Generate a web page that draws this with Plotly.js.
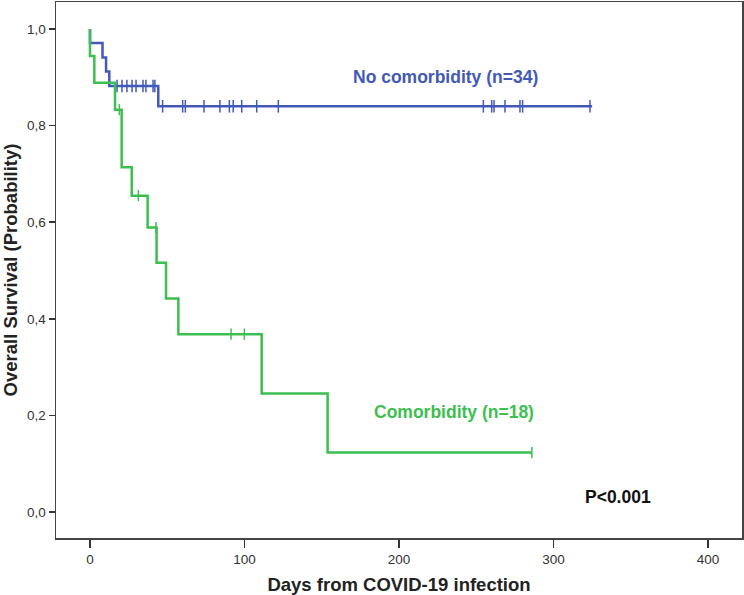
<!DOCTYPE html>
<html>
<head>
<meta charset="utf-8">
<script src="https://cdn.plot.ly/plotly-3.0.1.min.js"></script>
<style>html,body{margin:0;padding:0;background:#fff;}#chart{width:744px;height:595px;}</style>
</head>
<body>
<div id="chart"></div>
<script>
// No comorbidity (n=34): step curve
const noComTimes = [0, 0, 8.1, 10.4, 12.5, 44.2, 325];
const noComSurv  = [1.0, 0.971, 0.941, 0.912, 0.882, 0.840, 0.840];
// censored observations
const noComCensorTimes = [17.5, 20.7, 23.9, 27.2, 29.8, 34.3, 36.2, 40.8, 42,
  47, 60, 61.7, 73.8, 84.1, 90.2, 92.7, 98.2, 107.9, 121.9,
  254.6, 260, 261.5, 268.6, 278.3, 280, 323.6];
const noComCensorSurv = [0.882, 0.882, 0.882, 0.882, 0.882, 0.882, 0.882, 0.882, 0.882,
  0.840, 0.840, 0.840, 0.840, 0.840, 0.840, 0.840, 0.840, 0.840, 0.840,
  0.840, 0.840, 0.840, 0.840, 0.840, 0.840, 0.840];

// Comorbidity (n=18): step curve
const comTimes = [0, 0, 2.8, 16.2, 20.5, 27, 37.3, 43.1, 49.2, 57.2, 111.1, 153.8, 286];
const comSurv  = [1.0, 0.944, 0.889, 0.833, 0.714, 0.655, 0.589, 0.516, 0.442, 0.368, 0.245, 0.123, 0.123];
const comCensorTimes = [19, 31.3, 42.7, 91.3, 99.9, 286];
const comCensorSurv  = [0.833, 0.655, 0.589, 0.368, 0.368, 0.123];

const xTicks = [0, 100, 200, 300, 400];
const yTicks = [0, 0.2, 0.4, 0.6, 0.8, 1.0];

const blue = '#4259b8';
const green = '#3cbf50';
const font = 'Liberation Sans, Arial, sans-serif';

const data = [
  {x: noComTimes, y: noComSurv, mode: 'lines', line: {shape: 'hv', color: blue, width: 2.5}, hoverinfo: 'skip'},
  {x: noComCensorTimes, y: noComCensorSurv, mode: 'markers',
   marker: {symbol: 'line-ns', size: 9, line: {color: blue, width: 1.5}}, hoverinfo: 'skip'},
  {x: comTimes, y: comSurv, mode: 'lines', line: {shape: 'hv', color: green, width: 2.5}, hoverinfo: 'skip'},
  {x: comCensorTimes, y: comCensorSurv, mode: 'markers',
   marker: {symbol: 'line-ns', size: 8, line: {color: green, width: 1.5}}, hoverinfo: 'skip'}
];

const layout = {
  width: 744, height: 595,
  margin: {l: 56, r: 2, t: 2, b: 57},
  paper_bgcolor: '#fff', plot_bgcolor: '#fff',
  showlegend: false,
  separators: ', ',
  font: {family: font, color: '#333', size: 13},
  xaxis: {
    range: [-22, 422], tickvals: xTicks, ticktext: xTicks.map(String),
    showgrid: false, zeroline: false, showline: true, mirror: true,
    linecolor: '#444', linewidth: 1.5,
    ticks: 'outside', ticklen: 8, tickwidth: 1.5, tickcolor: '#333',
    tickfont: {family: font, size: 13.5, color: '#333'},
    title: {text: '<b>Days from COVID-19 infection</b>', font: {family: font, size: 18.5, color: '#222'}, standoff: 12}
  },
  yaxis: {
    range: [-0.054, 1.056], tickvals: yTicks, tickformat: '.1f',
    showgrid: false, zeroline: false, showline: true, mirror: true,
    linecolor: '#444', linewidth: 1.5,
    ticks: 'outside', ticklen: 6, tickwidth: 1.5, tickcolor: '#333',
    tickfont: {family: font, size: 13.5, color: '#333'},
    title: {text: '<b>Overall Survival (Probability)</b>', font: {family: font, size: 18.5, color: '#222'}, standoff: 6}
  },
  annotations: [
    {x: 230, y: 0.90, xref: 'x', yref: 'y', text: '<b>No comorbidity (n=34)</b>', showarrow: false,
     font: {family: font, size: 17.5, color: blue}},
    {x: 235.6, y: 0.207, xref: 'x', yref: 'y', text: '<b>Comorbidity (n=18)</b>', showarrow: false,
     font: {family: font, size: 17.5, color: green}},
    {x: 342, y: 0.031, xref: 'x', yref: 'y', text: '<b>P<0.001</b>', showarrow: false,
     font: {family: font, size: 17.5, color: '#111'}}
  ]
};

Plotly.newPlot('chart', data, layout, {displayModeBar: false, staticPlot: true});
</script>
</body>
</html>
